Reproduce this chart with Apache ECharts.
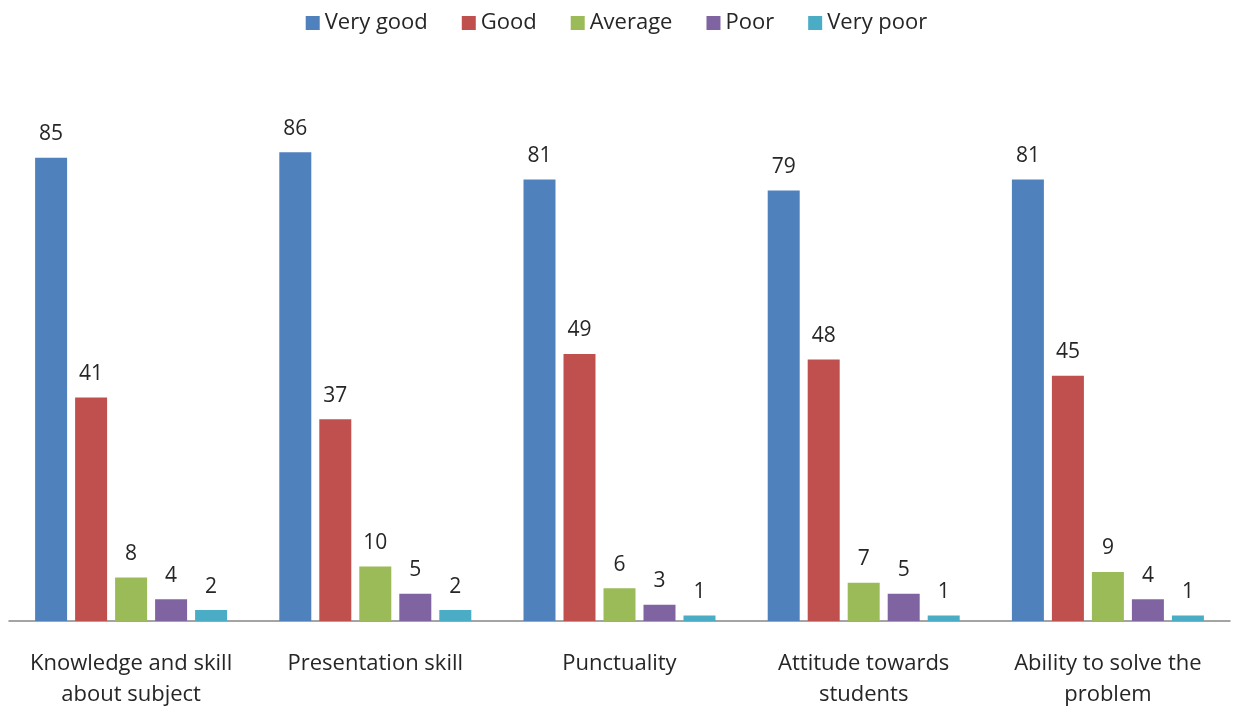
<!DOCTYPE html>
<html>
<head>
<meta charset="utf-8">
<script src="https://cdn.jsdelivr.net/npm/echarts@6/dist/echarts.min.js"></script>
<style>
html,body{margin:0;padding:0;background:#fff;}
#chart{width:1233px;height:713px;}
</style>
</head>
<body>
<div id="chart"></div>
<script>
const categories = ["Knowledge and skill\nabout subject", "Presentation skill", "Punctuality", "Attitude towards\nstudents", "Ability to solve the\nproblem"];
const seriesNames = ["Very good", "Good", "Average", "Poor", "Very poor"];
const veryGood = [85, 86, 81, 79, 81];
const good = [41, 37, 49, 48, 45];
const average = [8, 10, 6, 7, 9];
const poor = [4, 5, 3, 5, 4];
const veryPoor = [2, 2, 1, 1, 1];
const colors = ["#4F81BD", "#C0504D", "#9BBB59", "#8064A2", "#4BACC6"];
const values = [veryGood, good, average, poor, veryPoor];

const FONT = "Open Sans";
const chart = echarts.init(document.getElementById('chart'));
chart.setOption({
  animation: false,
  textStyle: {fontFamily: FONT},
  legend: {
    top: 7,
    left: 'center',
    itemWidth: 14,
    itemHeight: 14,
    itemGap: 34,
    icon: 'rect',
    textStyle: {fontFamily: FONT, fontSize: 22, color: '#262626'},
    data: seriesNames
  },
  grid: {left: 9, right: 3, top: 76, bottom: 92},
  xAxis: {
    type: 'category',
    data: categories,
    axisLine: {lineStyle: {color: '#868686', width: 1.5}},
    axisTick: {show: false},
    axisLabel: {fontFamily: FONT, fontSize: 22, color: '#262626', lineHeight: 31, margin: 27, interval: 0}
  },
  yAxis: {type: 'value', min: 0, max: 100, show: false},
  series: values.map((v, i) => ({
    name: seriesNames[i],
    type: 'bar',
    data: v,
    barWidth: 32,
    barGap: '25%',
    itemStyle: {color: colors[i]},
    label: {show: true, position: 'top', distance: 13, fontFamily: FONT, fontSize: 21, color: '#262626'}
  }))
});
</script>
</body>
</html>
